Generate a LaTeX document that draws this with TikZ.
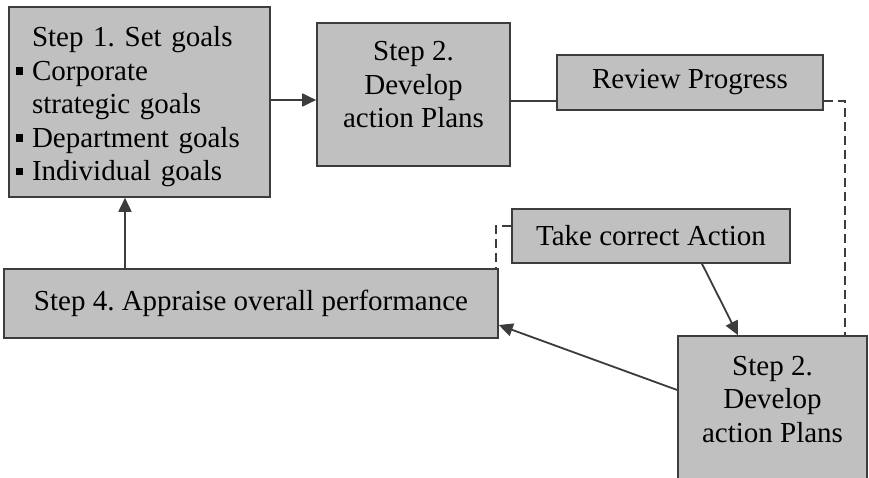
\documentclass[tikz,border=0pt]{standalone}
\usepackage{fontspec}
\setmainfont{Liberation Serif}
\usetikzlibrary{arrows.meta}
\definecolor{boxfill}{HTML}{C0C0C0}
\definecolor{edge}{HTML}{3C3C3C}
\newcommand{\sqbullet}{\leavevmode\llap{\rule[5.5pt]{7.5pt}{7.5pt}\hspace{9pt}}}
\newcommand{\lowpad}{\rule[-20pt]{0pt}{20pt}}
\frenchspacing
\begin{document}
\begin{tikzpicture}[x=1pt,y=-1pt,
  stepbox/.style={draw=edge,fill=boxfill,line width=1.6pt,inner sep=0pt,
    font=\fontsize{29}{33.5}\selectfont,align=center},
  link/.style={draw=edge,line width=1.8pt},
  arr/.style={link,-{Triangle[length=14pt,width=13pt]}},
  dashlink/.style={draw=edge,line width=1.5pt,dash pattern=on 9pt off 5pt}]
\useasboundingbox (0,0) rectangle (869,478);
\clip (0,0) rectangle (869,478);
\fill[white] (0,0) rectangle (869,478);

\node[stepbox,minimum width=261pt,minimum height=190pt,text width=215pt,align=left]
  (goals) at (139.5,102)
  {\rule{0pt}{30pt}Step 1. Set goals\\
   \sqbullet Corporate\\
   strategic goals\\
   \sqbullet Department goals\\
   \sqbullet Individual goals};
\node[stepbox,minimum width=193pt,minimum height=143pt] (plan) at (413.5,94.5)
  {Step 2.\\Develop\\action Plans\lowpad};
\node[stepbox,minimum width=266pt,minimum height=55pt] (review) at (690,82.5)
  {Review Progress};
\node[stepbox,minimum width=278pt,minimum height=54pt] (correct) at (651,236)
  {Take correct Action};
\node[stepbox,minimum width=494pt,minimum height=69pt] (appraise) at (251,303.5)
  {Step 4. Appraise overall performance};
\node[stepbox,minimum width=189pt,minimum height=146pt] (replan) at (772.5,409)
  {Step 2.\\Develop\\action Plans\lowpad};

\coordinate (rcorner) at (845,101);
\coordinate (lcorner) at (496,226);

\draw[arr] (goals.east |- 0,100) -- (plan.west |- 0,100);
\draw[link] (plan.east |- 0,101) -- (review.west |- 0,101);
\draw[dashlink] (review.east |- rcorner) -- (rcorner) -- (rcorner |- replan.north);
\draw[dashlink] (correct.west |- lcorner) -- (lcorner) -- (lcorner |- appraise.north);
\draw[arr] (appraise.north -| 125,0) -- (goals.south -| 125,0);
\draw[arr] (correct.south -| 702,0) -- (replan.north -| 738,0);
\draw[arr] (replan.west |- 0,390) -- (appraise.east |- 0,325);
\end{tikzpicture}
\end{document}
